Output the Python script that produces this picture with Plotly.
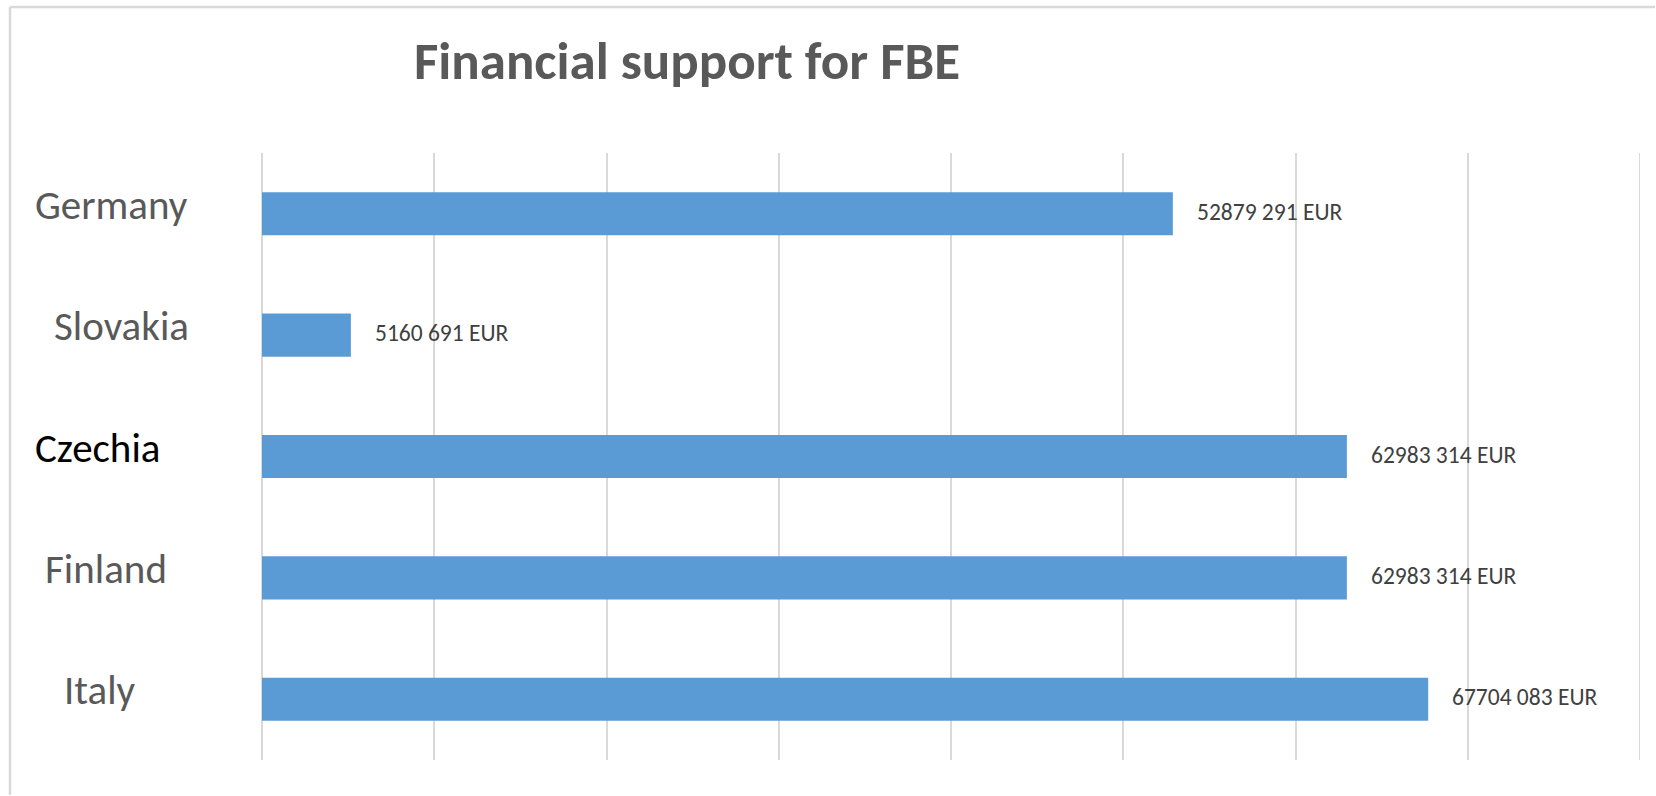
import plotly.graph_objects as go

# Funding per country (EUR)
countries = ["Germany", "Slovakia", "Czechia", "Finland", "Italy"]
amounts = [52879291, 5160691, 62983314, 62983314, 67704083]

# Axis ticks (gridlines only, no labels)
grid_ticks = [0, 10e6, 20e6, 30e6, 40e6, 50e6, 60e6, 70e6, 80e6]

# Category label styling: colour and left edge (px from page left)
label_colors = ["#595959", "#595959", "#000000", "#595959", "#595959"]
label_left_px = [33, 52, 33, 43, 62]

W, H = 1656, 796
L, R, T, B = 262, 16, 153, 36
plot_w = W - L - R
plot_h = H - T - B

FONT = "Carlito, Calibri, Lato, sans-serif"
GRID = "#d9d9d9"


def fmt_amount(v):
    return f"{v // 1000} {v % 1000:03d} EUR"


fig = go.Figure(
    go.Bar(
        x=amounts,
        y=countries,
        orientation="h",
        width=0.355,
        marker=dict(color="#5B9BD5", line=dict(width=0)),
        hoverinfo="skip",
    )
)

annotations = []
# value labels right of each bar
for c, v in zip(countries, amounts):
    annotations.append(
        dict(
            x=v, y=c, xref="x", yref="y",
            text=fmt_amount(v), showarrow=False,
            xanchor="left", yanchor="middle", xshift=22, yshift=2,
            font=dict(family=FONT, size=23.5, color="#404040"),
        )
    )
# category labels
for c, col, lx in zip(countries, label_colors, label_left_px):
    annotations.append(
        dict(
            x=(lx - L) / plot_w, y=c, xref="paper", yref="y",
            text=c, showarrow=False,
            xanchor="left", yanchor="middle", yshift=9,
            font=dict(family=FONT, size=41, color=col),
        )
    )

# chart frame (top and left edges)
px = lambda p: (p - L) / plot_w
py = lambda p: (H - B - p) / plot_h
shapes = [
    dict(type="line", xref="paper", yref="paper",
         x0=px(10), x1=px(W - 1), y0=py(7), y1=py(7),
         line=dict(color=GRID, width=2.5)),
    dict(type="line", xref="paper", yref="paper",
         x0=px(10), x1=px(10), y0=py(7), y1=py(H - 1),
         line=dict(color=GRID, width=2.5)),
    # gridline at the axis maximum (plotly skips the edge tick)
    dict(type="line", xref="x", yref="paper",
         x0=grid_ticks[-1], x1=grid_ticks[-1], y0=0, y1=1,
         line=dict(color=GRID, width=2), layer="below"),
]

fig.update_layout(
    width=W, height=H,
    margin=dict(l=L, r=R, t=T, b=B, autoexpand=False),
    paper_bgcolor="white", plot_bgcolor="white",
    showlegend=False,
    title=dict(
        text="<b>Financial support for FBE</b>",
        x=687 / W, xanchor="center", xref="container",
        y=1 - 60 / H, yanchor="middle", yref="container",
        font=dict(family=FONT, size=53, color="#595959"),
    ),
    xaxis=dict(
        range=[0, 80e6], tickvals=grid_ticks, showticklabels=False,
        showgrid=True, gridcolor=GRID, gridwidth=2,
        zeroline=True, zerolinecolor=GRID, zerolinewidth=2,
        showline=False, ticks="", fixedrange=True,
    ),
    yaxis=dict(
        categoryorder="array", categoryarray=countries,
        autorange="reversed", showticklabels=False, fixedrange=True,
        showgrid=False, zeroline=False, showline=False, ticks="",
    ),
    annotations=annotations,
    shapes=shapes,
)

fig.write_html(
    "out.html",
    config={"displayModeBar": False},
    post_script="document.body.style.margin='0';"
                "document.documentElement.style.overflow='hidden';",
)
